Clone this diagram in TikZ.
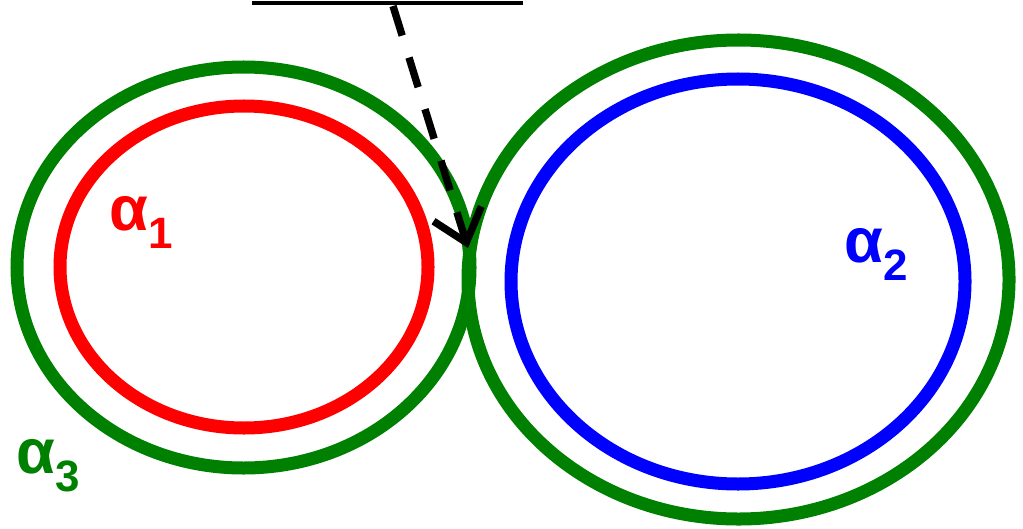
\documentclass[tikz,border=0pt]{standalone}
\usepackage{fontspec}
\setmainfont{Liberation Sans}
\usetikzlibrary{arrows.meta}
\definecolor{curvegreen}{RGB}{0,128,0}
\newcommand{\alphalab}[1]{\fontsize{18}{20}\selectfont\bfseries α\raisebox{-5.4pt}{\fontsize{12.5}{14}\selectfont #1}}
\tikzset{
  curve/.style={line width=3.7pt},
  lab/.style={anchor=base west, inner sep=0pt},
  pointer/.style={line width=2.1pt, dash pattern=on 3.1mm off 2.3mm, -{Straight Barb[length=3mm,width=5mm]}}
}
\begin{document}
\begin{tikzpicture}
\useasboundingbox (0,0) rectangle (10.23,5.28);
\draw[curve,curvegreen] (2.435,2.605) ellipse [x radius=2.265, y radius=2.005];
\draw[curve,red] (2.44,2.61) ellipse [x radius=1.84, y radius=1.61];
\draw[curve,curvegreen] (7.385,2.485) ellipse [x radius=2.705, y radius=2.395];
\draw[curve,blue] (7.38,2.465) ellipse [x radius=2.27, y radius=2.025];

\node[lab,red] (a1) at (1.09,2.98) {\alphalab{1}};
\node[lab,blue] (a2) at (8.44,2.66) {\alphalab{2}};
\node[lab,curvegreen] (a3) at (0.16,0.55) {\alphalab{3}};

% underline of the cut-off heading
\draw[line width=1.3pt] (2.52,5.25) -- (5.23,5.25);

\coordinate (from) at (3.93,5.22);
\coordinate (touch) at (4.68,2.80);
\draw[pointer] (from) -- (touch);
\end{tikzpicture}
\end{document}
